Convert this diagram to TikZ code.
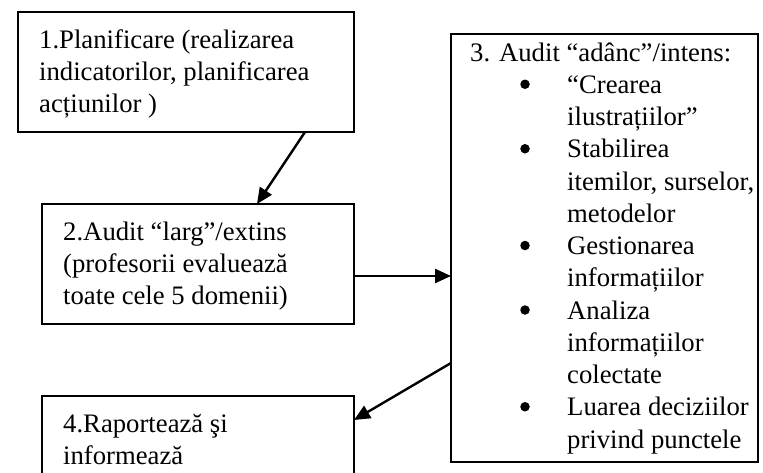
\documentclass[tikz,border=0pt]{standalone}
\usepackage{fontspec}
\setmainfont{Liberation Serif}
\usetikzlibrary{arrows.meta}
\begin{document}
\begin{tikzpicture}[x=1pt,y=-1pt,
  box/.style={draw, line width=1.4pt, inner sep=0pt, outer sep=0pt},
  ln/.style={anchor=base west, inner sep=0pt, font=\fontsize{26.7}{32}\selectfont},
  bullet/.style={circle, fill, inner sep=0pt, minimum size=9.5pt},
  arr/.style={line width=2.4pt, -{Triangle[length=16pt,width=14pt]}}]
\useasboundingbox (0,0) rectangle (763,472);
% boxes
\node[box, minimum width=336pt, minimum height=120pt] (b1) at (186,72) {};
\node[box, minimum width=312pt, minimum height=120pt] (b2) at (198,264) {};
\node[box, minimum width=307pt, minimum height=428pt] (b3) at (604.5,248) {};
\node[box, minimum width=312pt, minimum height=104pt] (b4) at (198,448) {};
% box 1 text
\node[ln] (t11) at (39,48) {1.Planificare (realizarea};
\node[ln] (t12) at (39,80) {indicatorilor, planificarea};
\node[ln] (t13) at (39,112) {acțiunilor )};
% box 2 text
\node[ln] (t21) at (63,240) {2.Audit “larg”/extins};
\node[ln] (t22) at (63,272) {(profesorii evaluează};
\node[ln] (t23) at (63,304) {toate cele 5 domenii)};
% box 4 text
\node[ln] (t41) at (63,432) {4.Raportează şi};
\node[ln] (t42) at (63,464) {informează};
% box 3 text
\def\bs{32.25}
\node[ln] (t30) at (470,61) {3. Audit “adânc”/intens:};
\foreach \i/\bul/\txt in {1/1/“Crearea, 2/0/ilustrațiilor”, 3/1/Stabilirea,
  4/0/{itemilor, surselor,}, 5/0/metodelor, 6/1/Gestionarea, 7/0/informațiilor,
  8/1/Analiza, 9/0/informațiilor, 10/0/colectate, 11/1/Luarea deciziilor,
  12/0/privind punctele}{
  \node[ln] (t3\i) at (567,61+\i*\bs) {\txt};
  \ifnum\bul=1
    \node[bullet] (u3\i) at (525,52+\i*\bs) {};
  \fi
}
% connectors
\coordinate (m23) at (0,276);
\coordinate (s34) at (0,363);
\coordinate (e34) at (0,420);
\draw[arr] ([xshift=119pt]b1.south) -- ([xshift=59pt]b2.north);
\draw[arr] (b2.east |- m23) -- (b3.west |- m23);
\draw[arr] (b3.west |- s34) -- (b4.east |- e34);
\end{tikzpicture}
\end{document}
